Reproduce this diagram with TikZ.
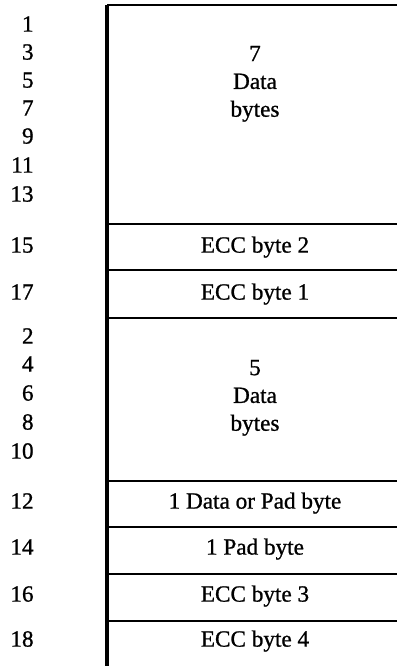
\documentclass[tikz,border=0pt]{standalone}
\usepackage{fontspec}
\setmainfont{Liberation Serif}[FakeBold=0.9]
\begin{document}
\begin{tikzpicture}[x=0.5pt,y=-0.5pt,
  lbl/.style={font=\fontsize{11.6}{13.9}\selectfont, inner sep=0pt, text height=0.66em, text depth=0pt},
  num/.style={lbl, anchor=east},
  field/.style={lbl, anchor=center},
  multi/.style={font=\fontsize{11.6}{13.9}\selectfont, inner sep=0pt, align=center, anchor=north},
  rule/.style={line width=1.2pt},
  spine/.style={line width=1.6pt}]
\useasboundingbox (0,0) rectangle (397,666);

% left spine
\coordinate (stop) at (107,5);
\coordinate (sbot) at (107,666);
\draw[spine] (stop) -- (sbot);

% horizontal rules
\foreach \n/\y in {a/5,b/224,c/270,d/318,e/481,f/527,g/574,h/621}{
  \coordinate (L\n) at (107,\y);
  \coordinate (R\n) at (397,\y);
  \draw[rule] (L\n) -- (R\n);
}

% field texts
\node[multi] (d7) at (255,45.5) {7\\Data\\bytes};
\node[field] (ecc2) at (255,246) {ECC byte 2};
\node[field] (ecc1) at (255,293) {ECC byte 1};
\node[multi] (d5) at (255,359.5) {5\\Data\\bytes};
\node[field] (dpad) at (255,502) {1 Data or Pad byte};
\node[field] (pad) at (255,548) {1 Pad byte};
\node[field] (ecc3) at (255,595) {ECC byte 3};
\node[field] (ecc4) at (255,640) {ECC byte 4};

% row numbers
\foreach \t/\y in {1/25,3/53,5/81,7/109,9/137,11/166,13/195,15/246,17/293,
                   2/337,4/365,6/394,8/423,10/452,12/502,14/548,16/595,18/640}{
  \node[num] (n\t) at (34,\y) {\t};
}
\end{tikzpicture}
\end{document}
